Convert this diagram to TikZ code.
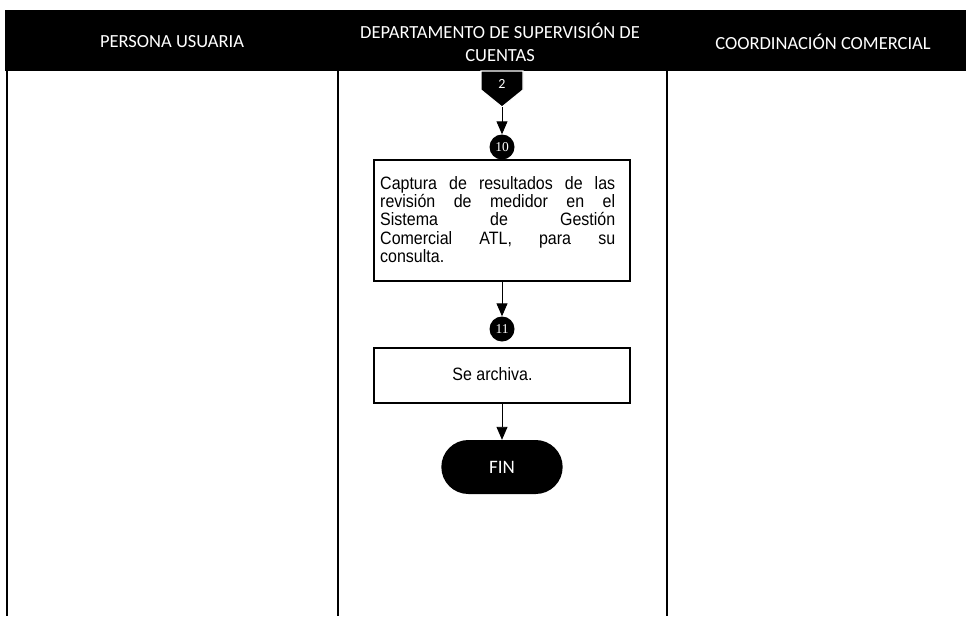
\documentclass[tikz,border=0pt]{standalone}
\usepackage{fontspec}
\setmainfont{Liberation Sans}
\newfontfamily\headfont{Carlito}
\newfontfamily\numfont{Liberation Serif}
\usetikzlibrary{arrows.meta,shapes.misc}
\newcommand\fullline[1]{\makebox[\linewidth][s]{#1}}
\begin{document}
\begin{tikzpicture}[x=1pt,y=-1pt,
  lane/.style={line width=1.5pt},
  headtext/.style={text=white,font=\headfont\fontsize{18.5}{23}\selectfont,align=center,inner sep=0pt},
  stepnum/.style={circle,fill=black,minimum size=25pt,inner sep=0pt,text=white,
    font=\numfont\fontsize{13.5}{13.5}\selectfont},
  stepbox/.style={draw,line width=1.8pt,minimum width=256pt,inner sep=0pt},
  steptext/.style={font=\fontsize{16}{16.4}\selectfont,inner sep=0pt,align=left},
  flow/.style={line width=0.9pt,-{Triangle[width=11pt,length=13pt]}},
  endcap/.style={rounded rectangle,fill=black,text=white,minimum width=128pt,
    minimum height=54pt,font=\headfont\fontsize{19}{19}\selectfont}]
\useasboundingbox (0,0) rectangle (966,616);

% header band and swimlane borders
\fill[black] (5,10) rectangle (966,71);
\draw[lane] (7,71) -- (7,616);
\draw[lane] (338,71) -- (338,616);
\draw[line width=2.4pt] (667,71) -- (667,616);

\node[headtext] (lane1) at (172,42) {PERSONA USUARIA};
\node[headtext] (lane2) at (500,42) {DEPARTAMENTO DE SUPERVISIÓN DE\\CUENTAS};
\node[headtext] (lane3) at (823,42) {COORDINACIÓN COMERCIAL};

% off-page connector
\draw[white,line width=1.2pt,fill=black]
  (481,71) -- (523,71) -- (523,90) -- (502,107) -- (481,90) -- cycle;
\node[text=white,font=\headfont\fontsize{14}{14}\selectfont] (offlbl) at (502,84) {2};
\coordinate (offtip) at (502,107);

% step 10
\node[stepnum] (n10) at (502,147) {10};
\node[stepbox,minimum height=121pt] (s10) at (502,220.5) {};
\node[steptext,anchor=north west] (s10txt) at (380,176)
  {\scalebox{1}[1.12]{\parbox[t]{235pt}{%
    \fullline{Captura de resultados de las}\\
    \fullline{revisión de medidor en el}\\
    \fullline{Sistema de Gestión}\\
    \fullline{Comercial ATL, para su}\\
    consulta.}}};

% step 11
\node[stepnum] (n11) at (502,329) {11};
\node[stepbox,minimum height=55pt] (s11) at (502,375.5) {};
\node[steptext] (s11txt) at (492.5,374) {\scalebox{1}[1.12]{Se archiva.}};

% end terminal
\node[endcap] (fin) at (502,467) {FIN};

% connectors
\draw[flow] (offtip) -- (n10.north);
\draw[flow] (s10.south) -- (n11.north);
\draw[flow] (s11.south) -- (fin.north);
\end{tikzpicture}
\end{document}
